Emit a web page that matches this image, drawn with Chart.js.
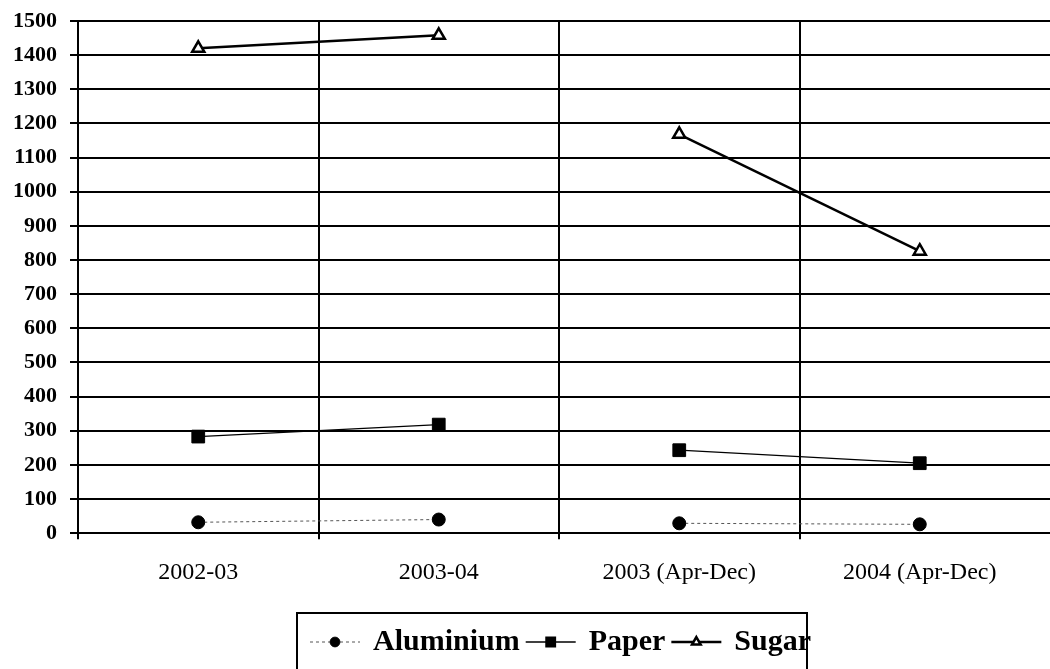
<!DOCTYPE html>
<html>
<head>
<meta charset="utf-8">
<title>Aluminium, Paper, Sugar</title>
<script src="https://cdn.jsdelivr.net/npm/chart.js"></script>
<style>
  html, body { margin: 0; padding: 0; background: #fff; }
  #wrap { width: 1050px; height: 669px; }
</style>
</head>
<body>
<div id="wrap"><canvas id="chart" width="1050" height="669"></canvas></div>
<script>
// categories and values
const periods = ['2002-03', '2003-04', '2003 (Apr-Dec)', '2004 (Apr-Dec)'];
const aluminium = [32, 40, 29, 26];
const paper = [283, 318, 243, 205];
const sugar = [1420, 1458, 1168, 826];
const yTicks = { min: 0, max: 1500, step: 100 };
// no line joins the annual figures to the Apr-Dec ones
const breakAfter = 1;

const hideBreak = ctx => ctx.p0DataIndex === breakAfter ? 'rgba(0,0,0,0)' : undefined;

const seriesStyle = [
    { label: 'Aluminium', data: aluminium, borderColor: '#555', borderWidth: 1, borderDash: [3, 3],
      pointStyle: 'circle', pointRadius: 6.5, pointBackgroundColor: '#000', pointBorderColor: '#000', pointBorderWidth: 1 },
    { label: 'Paper', data: paper, borderColor: '#000', borderWidth: 1.3,
      pointStyle: 'rect', pointRadius: 9, pointBackgroundColor: '#000', pointBorderColor: '#000', pointBorderWidth: 1 },
    { label: 'Sugar', data: sugar, borderColor: '#000', borderWidth: 2.5,
      pointStyle: 'triangle', pointRadius: 7, pointBackgroundColor: '#fff', pointBorderColor: '#000', pointBorderWidth: 2.5 }
];

// horizontal grid runs on to the page edge in the scan
const gridToEdge = {
    id: 'gridToEdge',
    beforeDatasetsDraw(chart) {
        const { ctx, chartArea, scales } = chart;
        ctx.save();
        ctx.strokeStyle = '#000';
        ctx.lineWidth = 2;
        scales.y.ticks.forEach(t => {
            const y = Math.round(scales.y.getPixelForValue(t.value));
            ctx.beginPath();
            ctx.moveTo(chartArea.right, y);
            ctx.lineTo(chart.width, y);
            ctx.stroke();
        });
        ctx.restore();
    }
};

// legend drawn in the bottom padding, boxed like the original
const boxedLegend = {
    id: 'boxedLegend',
    afterDraw(chart) {
        const ctx = chart.ctx;
        ctx.save();
        ctx.strokeStyle = '#000';
        ctx.lineWidth = 2;
        ctx.strokeRect(297, 613, 510, 80);

        ctx.font = 'bold 30px "Liberation Serif", serif';
        ctx.textBaseline = 'middle';
        ctx.fillStyle = '#000';
        const y = 642;
        let x = 310;
        chart.data.datasets.forEach(ds => {
            const w = 50;
            ctx.beginPath();
            ctx.strokeStyle = ds.borderColor;
            ctx.lineWidth = ds.borderWidth;
            ctx.setLineDash(ds.borderDash || []);
            ctx.moveTo(x, y);
            ctx.lineTo(x + w, y);
            ctx.stroke();
            ctx.setLineDash([]);
            ctx.fillStyle = ds.pointBackgroundColor;
            ctx.strokeStyle = ds.pointBorderColor;
            Chart.helpers.drawPoint(ctx, {
                pointStyle: ds.pointStyle,
                radius: ds.pointStyle === 'triangle' ? 5 : ds.pointRadius * 0.75,
                borderWidth: ds.pointBorderWidth,
                rotation: 0
            }, x + w / 2, y);
            x += w + 13;
            ctx.fillStyle = '#000';
            ctx.fillText(ds.label, x, y);
            x += ctx.measureText(ds.label).width + 6;
        });
        ctx.restore();
    }
};

new Chart(document.getElementById('chart'), {
    type: 'line',
    data: {
        labels: periods,
        datasets: seriesStyle.map(s => Object.assign({ fill: false, tension: 0, segment: { borderColor: hideBreak } }, s))
    },
    options: {
        responsive: false,
        animation: false,
        layout: { padding: { top: 21, left: 0, right: 0, bottom: 63 } },
        plugins: { legend: { display: false }, tooltip: { enabled: false } },
        scales: {
            x: {
                offset: true,
                grid: {
                    offset: true, lineWidth: 2, tickLength: 6,
                    // the closing line at the right edge is not in the scan
                    color: ctx => ctx.index === undefined ? 'rgba(0,0,0,0)' : '#000'
                },
                border: { color: '#000', width: 2 },
                ticks: { color: '#000', padding: 19, font: { family: '"Liberation Serif", serif', size: 24 } }
            },
            y: {
                min: yTicks.min,
                max: yTicks.max,
                afterFit: s => { s.paddingTop = 0; },
                grid: { color: '#000', lineWidth: 2, tickLength: 8 },
                border: { color: '#000', width: 2 },
                ticks: { stepSize: yTicks.step, color: '#000', padding: 13,
                         callback: v => String(v),
                         font: { family: '"Liberation Serif", serif', size: 22, weight: 'bold' } }
            }
        }
    },
    plugins: [gridToEdge, boxedLegend]
});
</script>
</body>
</html>
